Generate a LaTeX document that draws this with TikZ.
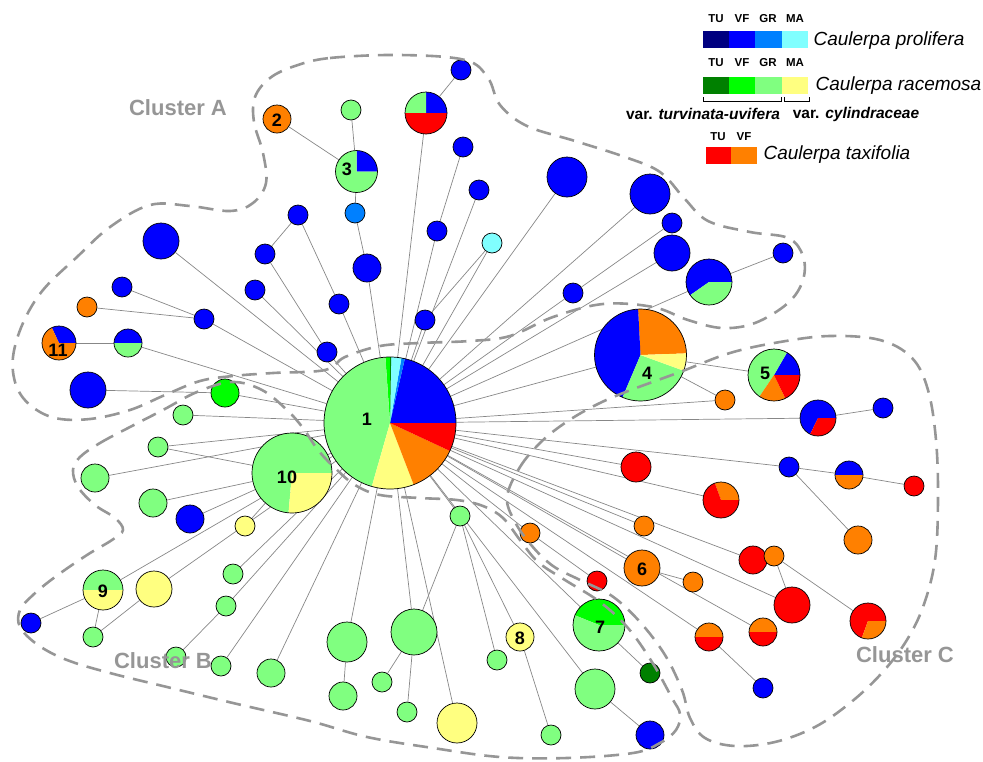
\documentclass[tikz,border=0pt]{standalone}
\usepackage{fontspec}
\setmainfont{Liberation Sans}
\usetikzlibrary{backgrounds}

\definecolor{proTU}{RGB}{0,0,128}
\definecolor{proVF}{RGB}{0,0,255}
\definecolor{proGR}{RGB}{0,128,255}
\definecolor{proMA}{RGB}{128,255,255}
\definecolor{racTU}{RGB}{0,128,0}
\definecolor{racVF}{RGB}{0,255,0}
\definecolor{racGR}{RGB}{128,255,128}
\definecolor{racMA}{RGB}{255,255,128}
\definecolor{taxTU}{RGB}{255,0,0}
\definecolor{taxVF}{RGB}{255,128,0}
\definecolor{linkgray}{RGB}{135,135,135}
\definecolor{clustergray}{RGB}{150,150,150}

\pgfdeclarelayer{edges}
\pgfdeclarelayer{slices}
\pgfsetlayers{edges,slices,main}

% one pie slice: node, from angle, to angle, radius, colour
\newcommand{\hapslice}[5]{\fill[#5] (#1.center) -- ++(#2:#4pt) arc[start angle=#2,end angle=#3,radius=#4pt] -- cycle;}

\tikzset{
  hap/.style={circle,draw=black,line width=0.7pt,inner sep=0pt,minimum size=#1},
  link/.style={draw=linkgray,line width=0.7pt},
  cluster/.style={draw=clustergray,line width=2.6pt,dash pattern=on 15pt off 9pt},
  hapnum/.style={font=\fontsize{18}{18}\selectfont\bfseries},
  clusterlabel/.style={text=clustergray,font=\fontsize{22}{22}\selectfont\bfseries},
  legtag/.style={font=\fontsize{11.5}{11.5}\selectfont\bfseries},
  species/.style={anchor=west,font=\fontsize{19}{19}\selectfont\itshape},
  varname/.style={font=\fontsize{15.5}{15.5}\selectfont\bfseries},
}

\begin{document}
\begin{tikzpicture}[x=1pt,y=-1pt]
\useasboundingbox (0,0) rectangle (983,761);

% numbered haplotypes
\node[hap=132pt] (h1) at (390,423) {};
\node[hap=28pt,fill=taxVF] (h2) at (277,119) {};
\node[hap=42pt] (h3) at (356.5,171.5) {};
\node[hap=92pt] (h4) at (640.5,355) {};
\node[hap=52pt] (h5) at (774,375) {};
\node[hap=36pt,fill=taxVF] (h6) at (642,568) {};
\node[hap=52pt] (h7) at (599,625) {};
\node[hap=28pt,fill=racMA] (h8) at (520,637) {};
\node[hap=40pt] (h9) at (103,590) {};
\node[hap=80pt] (h10) at (292,473) {};
\node[hap=34pt] (h11) at (59,343) {};

% cluster A
\node[hap=36pt,fill=proVF] (a1) at (161,241) {};
\node[hap=20pt,fill=proVF] (a2) at (122,287) {};
\node[hap=20pt,fill=taxVF] (a3) at (87,307) {};
\node[hap=28pt] (a4) at (128,343) {};
\node[hap=20pt,fill=proVF] (a5) at (204,319) {};
\node[hap=36pt,fill=proVF] (a6) at (88,390) {};
\node[hap=28pt,fill=racVF] (a7) at (225,393) {};
\node[hap=20pt,fill=racGR] (a8) at (183,415) {};
\node[hap=20pt,fill=proVF] (a9) at (255,290) {};
\node[hap=20pt,fill=proVF] (a10) at (265,254) {};
\node[hap=20pt,fill=proVF] (a11) at (298,215) {};
\node[hap=20pt,fill=proVF] (a12) at (327,352) {};
\node[hap=20pt,fill=proVF] (a13) at (339,304) {};
\node[hap=20pt,fill=proGR] (a14) at (355,213) {};
\node[hap=28pt,fill=proVF] (a15) at (367,268) {};
\node[hap=20pt,fill=racGR] (a16) at (351,110) {};
\node[hap=42pt] (a17) at (426,113) {};
\node[hap=20pt,fill=proVF] (a18) at (461,70) {};
\node[hap=20pt,fill=proVF] (a19) at (463,147) {};
\node[hap=20pt,fill=proVF] (a20) at (437,231) {};
\node[hap=20pt,fill=proVF] (a21) at (425,320) {};
\node[hap=20pt,fill=proVF] (a22) at (479,190) {};
\node[hap=20pt,fill=proMA] (a23) at (492,243) {};
\node[hap=40pt,fill=proVF] (a24) at (567,177) {};
\node[hap=40pt,fill=proVF] (a25) at (650,194) {};
\node[hap=20pt,fill=proVF] (a26) at (672,223) {};
\node[hap=36pt,fill=proVF] (a27) at (672,253) {};
\node[hap=20pt,fill=proVF] (a28) at (573,293) {};
\node[hap=46pt] (a29) at (709,282) {};
\node[hap=20pt,fill=proVF] (a30) at (783,253) {};

% cluster B
\node[hap=20pt,fill=racGR] (b1) at (158,447) {};
\node[hap=28pt,fill=racGR] (b2) at (95,478) {};
\node[hap=28pt,fill=racGR] (b3) at (153,503) {};
\node[hap=28pt,fill=proVF] (b4) at (190,519) {};
\node[hap=20pt,fill=racMA] (b5) at (245,526) {};
\node[hap=36pt,fill=racMA] (b6) at (154,589) {};
\node[hap=20pt,fill=proVF] (b7) at (31,623) {};
\node[hap=20pt,fill=racGR] (b8) at (93,637) {};
\node[hap=20pt,fill=racGR] (b9) at (233,574) {};
\node[hap=20pt,fill=racGR] (b10) at (226,606) {};
\node[hap=20pt,fill=racGR] (b11) at (176,657) {};
\node[hap=20pt,fill=racGR] (b12) at (221,666) {};
\node[hap=28pt,fill=racGR] (b13) at (271,673) {};
\node[hap=40pt,fill=racGR] (b14) at (347,642) {};
\node[hap=28pt,fill=racGR] (b15) at (343,696) {};
\node[hap=46pt,fill=racGR] (b16) at (414,632) {};
\node[hap=20pt,fill=racGR] (b17) at (382,682) {};
\node[hap=20pt,fill=racGR] (b18) at (407,712) {};
\node[hap=40pt,fill=racMA] (b19) at (457,723) {};
\node[hap=20pt,fill=racGR] (b20) at (460,516) {};
\node[hap=20pt,fill=racGR] (b21) at (497,660) {};
\node[hap=20pt,fill=racGR] (b22) at (551,735) {};
\node[hap=20pt,fill=racTU] (b23) at (650,673) {};
\node[hap=40pt,fill=racGR] (b24) at (595,689) {};
\node[hap=28pt,fill=proVF] (b25) at (650,735) {};

% cluster C
\node[hap=20pt,fill=taxVF] (c1) at (725,400) {};
\node[hap=36pt] (c2) at (818,418) {};
\node[hap=20pt,fill=proVF] (c3) at (883,408) {};
\node[hap=20pt,fill=proVF] (c4) at (789,467) {};
\node[hap=28pt] (c5) at (849,475) {};
\node[hap=20pt,fill=taxTU] (c6) at (914,486) {};
\node[hap=28pt,fill=taxVF] (c7) at (858,540) {};
\node[hap=36pt] (c8) at (721,500) {};
\node[hap=30pt,fill=taxTU] (c9) at (636,467) {};
\node[hap=28pt,fill=taxTU] (c10) at (753,560) {};
\node[hap=20pt,fill=taxVF] (c11) at (774,556) {};
\node[hap=36pt,fill=taxTU] (c12) at (792,605) {};
\node[hap=36pt] (c13) at (868,621) {};
\node[hap=28pt] (c14) at (763,632) {};
\node[hap=28pt] (c15) at (709,637) {};
\node[hap=20pt,fill=proVF] (c16) at (763,688) {};
\node[hap=20pt,fill=taxVF] (c17) at (693,582) {};
\node[hap=20pt,fill=taxVF] (c18) at (644,526) {};
\node[hap=20pt,fill=taxVF] (c19) at (530,533) {};
\node[hap=20pt,fill=taxTU] (c20) at (597,581) {};

\begin{pgfonlayer}{slices}
\hapslice{h1}{0}{77}{66}{proVF}
\hapslice{h1}{77}{80}{66}{proGR}
\hapslice{h1}{80}{89}{66}{proMA}
\hapslice{h1}{89}{90}{66}{racTU}
\hapslice{h1}{90}{94}{66}{racVF}
\hapslice{h1}{94}{254}{66}{racGR}
\hapslice{h1}{254}{291}{66}{racMA}
\hapslice{h1}{291}{335}{66}{taxVF}
\hapslice{h1}{335}{360}{66}{taxTU}
\hapslice{h3}{0}{90}{21}{proVF}
\hapslice{h3}{90}{360}{21}{racGR}
\hapslice{h4}{2}{93}{46}{taxVF}
\hapslice{h4}{93}{247}{46}{proVF}
\hapslice{h4}{247}{340}{46}{racGR}
\hapslice{h4}{340}{362}{46}{racMA}
\hapslice{h5}{0}{60}{26}{proVF}
\hapslice{h5}{60}{236}{26}{racGR}
\hapslice{h5}{236}{296}{26}{taxVF}
\hapslice{h5}{296}{360}{26}{taxTU}
\hapslice{h7}{0}{158}{26}{racVF}
\hapslice{h7}{158}{360}{26}{racGR}
\hapslice{h9}{0}{180}{20}{racGR}
\hapslice{h9}{180}{360}{20}{racMA}
\hapslice{h10}{0}{265}{40}{racGR}
\hapslice{h10}{265}{360}{40}{racMA}
\hapslice{h11}{0}{115}{17}{proVF}
\hapslice{h11}{115}{360}{17}{taxVF}
\hapslice{a4}{0}{180}{14}{proVF}
\hapslice{a4}{180}{360}{14}{racGR}
\hapslice{a17}{0}{90}{21}{proVF}
\hapslice{a17}{90}{180}{21}{racGR}
\hapslice{a17}{180}{360}{21}{taxTU}
\hapslice{a29}{0}{215}{23}{proVF}
\hapslice{a29}{215}{360}{23}{racGR}
\hapslice{c2}{0}{244}{18}{proVF}
\hapslice{c2}{244}{360}{18}{taxTU}
\hapslice{c5}{0}{180}{14}{proVF}
\hapslice{c5}{180}{360}{14}{taxVF}
\hapslice{c8}{0}{110}{18}{taxVF}
\hapslice{c8}{110}{360}{18}{taxTU}
\hapslice{c13}{0}{250}{18}{taxTU}
\hapslice{c13}{250}{360}{18}{taxVF}
\hapslice{c14}{0}{180}{14}{taxVF}
\hapslice{c14}{180}{360}{14}{taxTU}
\hapslice{c15}{0}{180}{14}{taxVF}
\hapslice{c15}{180}{360}{14}{taxTU}
\end{pgfonlayer}

\begin{pgfonlayer}{edges}
% cluster A links
\draw[link] (a1) -- (h1);
\draw[link] (a2) -- (a5);
\draw[link] (a3) -- (a5);
\draw[link] (a5) -- (h1);
\draw[link] (h11) -- (a4);
\draw[link] (a4) -- (h1);
\draw[link] (a6) -- (a7);
\draw[link] (a7) -- (h1);
\draw[link] (a8) -- (h1);
\draw[link] (a9) -- (h1);
\draw[link] (a11) -- (a10);
\draw[link] (a10) -- (a12);
\draw[link] (a12) -- (h1);
\draw[link] (a11) -- (a13);
\draw[link] (a13) -- (h1);
\draw[link] (h2) -- (h3);
\draw[link] (h3) -- (a16);
\draw[link] (h3) -- (a14);
\draw[link] (a14) -- (a15);
\draw[link] (a15) -- (h1);
\draw[link] (a17) -- (a18);
\draw[link] (a17) -- (h1);
\draw[link] (a19) -- (a20);
\draw[link] (a20) -- (h1);
\draw[link] (a21) -- (h1);
\draw[link] (a22) -- (h1);
\draw[link] (a23) -- (a21);
\draw[link] (a23) -- (h1);
\draw[link] (a24) -- (h1);
\draw[link] (a25) -- (h1);
\draw[link] (a26) -- (a28);
\draw[link] (a28) -- (h1);
\draw[link] (a27) -- (h1);
\draw[link] (a29) -- (h1);
\draw[link] (a29) -- (a30);
% cluster B links
\draw[link] (h10) -- (h1);
\draw[link] (b1) -- (h1);
\draw[link] (b1) -- (h10);
\draw[link] (b2) -- (h1);
\draw[link] (b3) -- (h10);
\draw[link] (b4) -- (h10);
\draw[link] (b5) -- (h10);
\draw[link] (h9) -- (h1);
\draw[link] (b7) -- (h9);
\draw[link] (b8) -- (h9);
\draw[link] (b8) -- (b6);
\draw[link] (b6) -- (h1);
\draw[link] (b9) -- (h1);
\draw[link] (b10) -- (h1);
\draw[link] (b11) -- (b10);
\draw[link] (b12) -- (h1);
\draw[link] (b13) -- (h1);
\draw[link] (b14) -- (h1);
\draw[link] (b15) -- (b14);
\draw[link] (b16) -- (h1);
\draw[link] (b16) -- (b20);
\draw[link] (b17) -- (b16);
\draw[link] (b18) -- (b16);
\draw[link] (b19) -- (h1);
\draw[link] (b20) -- (h1);
\draw[link] (b21) -- (b20);
\draw[link] (h8) -- (b20);
\draw[link] (h8) -- (b22);
\draw[link] (h7) -- (h1);
\draw[link] (h7) -- (b23);
\draw[link] (b24) -- (h1);
\draw[link] (b24) -- (b25);
% cluster C links
\draw[link] (h4) -- (h1);
\draw[link] (h4) -- (c1);
\draw[link] (h4) -- (h5);
\draw[link] (c1) -- (h1);
\draw[link] (c2) -- (h1);
\draw[link] (c2) -- (c3);
\draw[link] (c4) -- (h1);
\draw[link] (c4) -- (c5);
\draw[link] (c5) -- (c6);
\draw[link] (c4) -- (c7);
\draw[link] (c8) -- (h1);
\draw[link] (c9) -- (h1);
\draw[link] (c10) -- (h1);
\draw[link] (c11) -- (c12);
\draw[link] (c11) -- (c13);
\draw[link] (c12) -- (h1);
\draw[link] (c14) -- (h1);
\draw[link] (c15) -- (h1);
\draw[link] (c15) -- (c16);
\draw[link] (h6) -- (h1);
\draw[link] (h6) -- (c17);
\draw[link] (c18) -- (h1);
\draw[link] (c19) -- (h1);
\draw[link] (c19) -- (c20);
\end{pgfonlayer}

% haplotype numbers
\node[hapnum] (l1) at (367,419) {1};
\node[hapnum] (l2) at (277,120) {2};
\node[hapnum] (l3) at (347,169) {3};
\node[hapnum] (l4) at (647,373) {4};
\node[hapnum] (l5) at (765,373) {5};
\node[hapnum] (l6) at (642,569) {6};
\node[hapnum] (l7) at (600,627) {7};
\node[hapnum] (l8) at (520,638) {8};
\node[hapnum] (l9) at (103,591) {9};
\node[hapnum] (l10) at (287,477) {10};
\node[hapnum] (l11) at (58,350) {11};

% cluster outlines
\draw[cluster] plot[smooth cycle,tension=0.6] coordinates {(295,66) (330,58) (400,55) (465,60) (488,78) (500,105) (527,126) (575,141) (625,157) (660,172) (684,198) (708,221) (750,232) (788,238) (803,256) (803,280) (788,303) (755,323) (722,328) (688,320) (653,307) (603,304) (553,317) (510,336) (470,341) (420,343) (380,346) (345,357) (325,370) (273,373) (233,376) (200,381) (165,395) (130,410) (90,419) (55,418) (30,405) (16,385) (13,357) (23,323) (43,290) (77,257) (110,227) (150,205) (190,206) (230,211) (253,203) (266,183) (263,153) (254,122) (255,97) (270,78)};
\draw[cluster] plot[smooth cycle,tension=0.6] coordinates {(80,457) (100,443) (130,427) (163,410) (197,392) (232,382) (262,390) (287,410) (303,428) (318,450) (335,468) (355,485) (380,495) (420,498) (457,500) (483,506) (503,518) (520,540) (538,562) (565,580) (600,602) (628,628) (652,662) (672,698) (680,714) (676,730) (660,743) (633,753) (567,758) (500,757) (433,748) (367,737) (310,721) (233,703) (167,687) (110,673) (67,660) (38,645) (20,627) (20,610) (33,595) (55,577) (87,555) (112,540) (123,530) (115,518) (95,505) (78,487) (73,470)};
\draw[cluster] plot[smooth cycle,tension=0.6] coordinates {(507,497) (520,467) (540,443) (562,425) (590,408) (623,393) (680,372) (730,353) (780,342) (830,336) (880,340) (912,358) (928,390) (936,440) (938,500) (935,560) (923,607) (905,643) (880,675) (850,703) (815,727) (775,742) (735,746) (705,738) (690,718) (682,690) (665,655) (640,622) (612,596) (580,580) (553,566) (532,546) (515,522)};

\node[clusterlabel] (labA) at (178,108) {Cluster A};
\node[clusterlabel] (labB) at (163,661) {Cluster B};
\node[clusterlabel] (labC) at (905,655) {Cluster C};

% legend
\node[legtag] (pTU) at (716,19) {TU};
\node[legtag] (pVF) at (742,19) {VF};
\node[legtag] (pGR) at (768,19) {GR};
\node[legtag] (pMA) at (795,19) {MA};
\fill[proTU] (703,31) rectangle (729,48);
\fill[proVF] (729,31) rectangle (755,48);
\fill[proGR] (755,31) rectangle (782,48);
\fill[proMA] (782,31) rectangle (808,48);
\node[species] (pro) at (810,41) {Caulerpa prolifera};

\node[legtag] (rTU) at (716,63) {TU};
\node[legtag] (rVF) at (742,63) {VF};
\node[legtag] (rGR) at (768,63) {GR};
\node[legtag] (rMA) at (795,63) {MA};
\fill[racTU] (703,77) rectangle (729,94);
\fill[racVF] (729,77) rectangle (755,94);
\fill[racGR] (755,77) rectangle (782,94);
\fill[racMA] (782,77) rectangle (808,94);
\node[species] (rac) at (812,86) {Caulerpa racemosa};
\draw[line width=0.7pt] (703,97) -- (703,101) -- (781,101) -- (781,97);
\draw[line width=0.7pt] (784,97) -- (784,101) -- (809,101) -- (809,97);
\node[varname] (vtu) at (703,114) {var. \textit{turvinata-uvifera}};
\node[varname] (vcy) at (856,114) {var. \textit{cylindraceae}};

\node[legtag] (tTU) at (718,137) {TU};
\node[legtag] (tVF) at (744,137) {VF};
\fill[taxTU] (706,147) rectangle (731,164);
\fill[taxVF] (731,147) rectangle (757,164);
\node[species] (tax) at (760,155) {Caulerpa taxifolia};
\end{tikzpicture}
\end{document}
